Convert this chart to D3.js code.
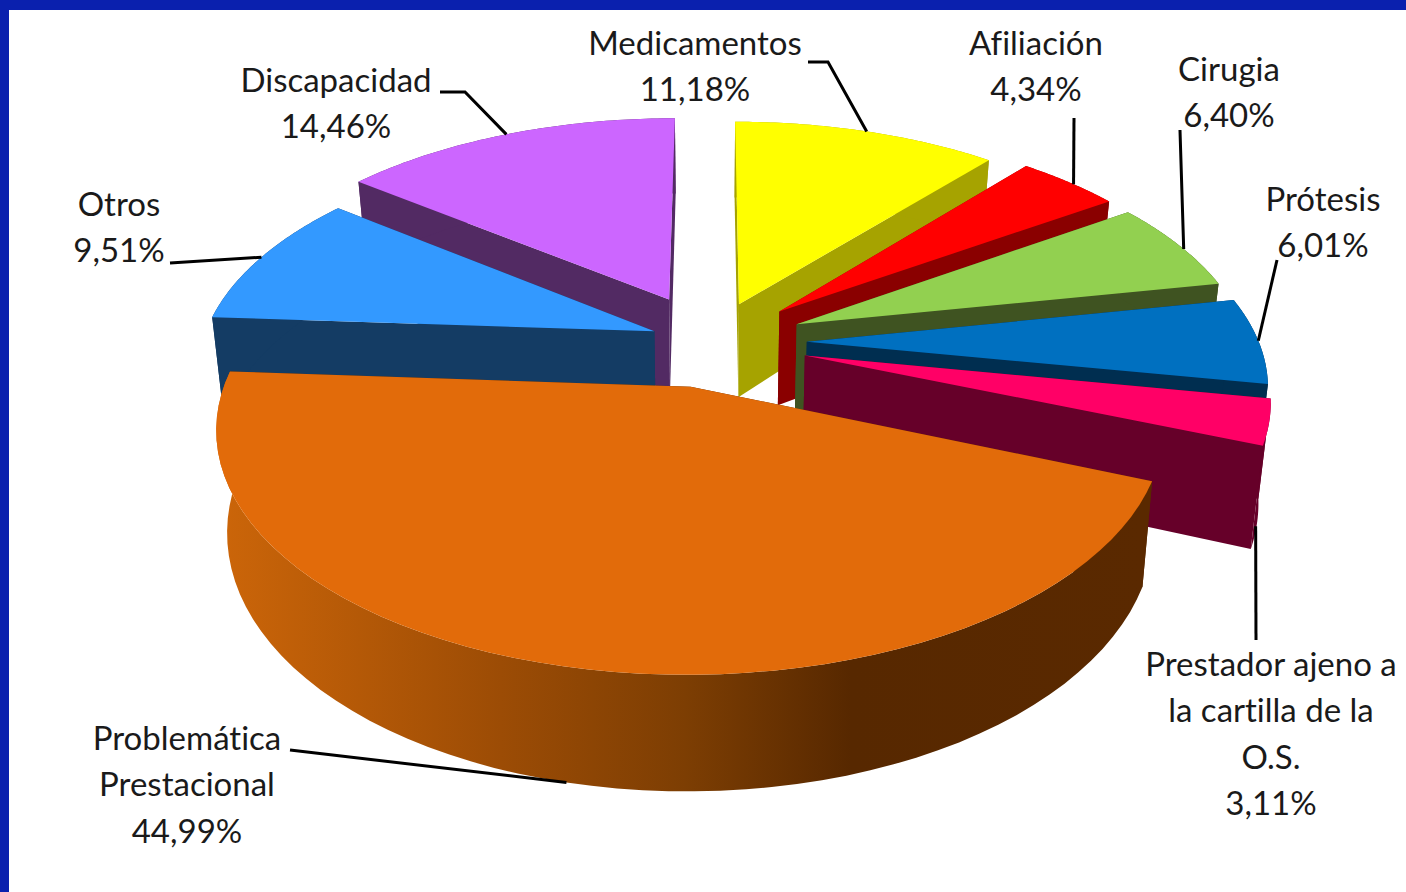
<!DOCTYPE html>
<html>
<head>
<meta charset="utf-8">
<script src="https://cdn.jsdelivr.net/npm/d3@7"></script>
<style>
  html, body { margin: 0; padding: 0; background: #fff; }
  svg { display: block; }
</style>
</head>
<body>
<div id="chart"></div>
<script>
// Data, in pie order (clockwise from twelve o'clock)
const categories = ['Medicamentos', 'Afiliación', 'Cirugia', 'Prótesis', 'Prestador ajeno a la cartilla de la O.S.', 'Problemática Prestacional', 'Otros', 'Discapacidad']
const values = [11.18, 4.34, 6.40, 6.01, 3.11, 44.99, 9.51, 14.46]
const valueLabels = ['11,18%', '4,34%', '6,40%', '6,01%', '3,11%', '44,99%', '9,51%', '14,46%']
const labelLines = [
  ['Medicamentos'], ['Afiliación'], ['Cirugia'], ['Prótesis'],
  ['Prestador ajeno a', 'la cartilla de la', 'O.S.'],
  ['Problemática', 'Prestacional'], ['Otros'], ['Discapacidad']
]

// Styles and layout per slice
const topColours = ['#ffff00', '#ff0000', '#92d050', '#0070c0', '#ff0066', '#e26b0a', '#3399ff', '#cc66ff']
const wallColours = ['#a6a300', '#8a0000', '#3f5321', '#002e50', '#660029', '#572800', '#143c64', '#522a63']
const explode = [0.185, 0.208, 0.208, 0.212, 0.214, 0.198, 0.135, 0.218]
const labelPos = [[695, 55], [1036, 55], [1229, 81], [1323, 211], [1271, 676], [187, 750], [119, 216], [336, 92]]
// leader: elbow points from the label towards the rim
const leaders = [
  [[808, 62], [828, 62]],
  [[1074, 118]],
  [[1180, 130]],
  [[1277, 260]],
  [[1256, 640]],
  [[290, 750]],
  [[170, 263]],
  [[440, 92], [465, 92]]
]
// where a leader hits the slice: fraction along the slice arc, height on the wall
const leaderHit = [[0.5, 0], [0.55, 0], [0.55, 0], [0.5, 0], [0.75, 0.9], [0.5, 1], [0.5, 0], [0.5, 0]]

const width = 1406
const height = 892
const cx = 711
const cy = 342
const radiusX = 452
const radiusY = 224
const persp = 0.165
const depth = 96
const depthSlope = 0.18
const baseShrink = 0.978

const svg = d3.select('#chart').append('svg')
  .attr('width', width)
  .attr('height', height)
  .style('font-family', 'Lato, sans-serif')
  .style('font-variant-ligatures', 'none')

svg.append('rect').attr('width', width).attr('height', height).attr('fill', '#0a20ae')
svg.append('rect').attr('x', 9).attr('y', 10).attr('width', width).attr('height', height).attr('fill', '#fff')

const defs = svg.append('defs')
const wallGrad = defs.append('linearGradient')
  .attr('id', 'orange-wall')
  .attr('gradientUnits', 'userSpaceOnUse')
  .attr('x1', 225).attr('x2', 1145).attr('y1', 0).attr('y2', 0)
wallGrad.selectAll('stop')
  .data([[0, '#cb6509'], [0.3, '#9c4c05'], [0.5, '#7d3e03'], [0.68, '#572800'], [1, '#5a2900']])
  .join('stop')
  .attr('offset', d => d[0])
  .attr('stop-color', d => d[1])

// Ground plane point to screen. x is to the right, z towards the viewer,
// h is 0 on top of the pie and 1 at its base.
function project(x, z, h) {
  const k = 1 / (1 - persp * z)
  const shrink = 1 - (1 - baseShrink) * h
  return [cx + radiusX * x * k * shrink, cy + radiusY * z * k + depth * (1 + depthSlope * z) * h]
}

const pie = d3.pie().sort(null).value(d => d)
const arcs = pie(values).map((a, i) => {
  const mid = (a.startAngle + a.endAngle) / 2
  return {
    i,
    start: a.startAngle,
    end: a.endAngle,
    mid,
    ox: explode[i] * Math.sin(mid),
    oz: -explode[i] * Math.cos(mid)
  }
})

const rimPoint = (a, t, h) => project(a.ox + Math.sin(t), a.oz - Math.cos(t), h)
const apexPoint = (a, h) => project(a.ox, a.oz, h)
const line = d3.line()

function rim(a, h) {
  return d3.range(0, 61).map(n => rimPoint(a, a.start + (a.end - a.start) * n / 60, h))
}

// Painter's order, back to front
const order = arcs.slice().sort((p, q) => (p.oz - q.oz))
const gPie = svg.append('g')

order.forEach(a => {
  const col = wallColours[a.i]
  const g = gPie.append('g').attr('class', 'slice')
  const walls = [a.start, a.end]
    .map(t => ({ t, z: a.oz - 0.5 * Math.cos(t) }))
    .sort((p, q) => p.z - q.z)
  walls.forEach(w => {
    g.append('path')
      .attr('d', line([apexPoint(a, 0), rimPoint(a, w.t, 0), rimPoint(a, w.t, 1), apexPoint(a, 1)]) + 'Z')
      .attr('fill', col)
  })
  g.append('path')
    .attr('d', line(rim(a, 0).concat(rim(a, 1).reverse())) + 'Z')
    .attr('fill', a.i === 5 ? 'url(#orange-wall)' : col)
  g.append('path')
    .attr('d', line([apexPoint(a, 0)].concat(rim(a, 0))) + 'Z')
    .attr('fill', topColours[a.i])
})

// Leader lines
arcs.forEach(a => {
  const hit = leaderHit[a.i]
  const end = rimPoint(a, a.start + (a.end - a.start) * hit[0], hit[1])
  svg.append('path')
    .attr('d', line(leaders[a.i].concat([end])))
    .attr('fill', 'none')
    .attr('stroke', '#000')
    .attr('stroke-width', 3)
})

// Labels
const lineStep = 46.3
arcs.forEach(a => {
  const t = svg.append('text')
    .attr('x', labelPos[a.i][0])
    .attr('y', labelPos[a.i][1])
    .attr('text-anchor', 'middle')
    .style('font-size', '33px')
    .attr('fill', '#1a1a1a')
  labelLines[a.i].concat([valueLabels[a.i]]).forEach((s, n) => {
    t.append('tspan')
      .attr('x', labelPos[a.i][0])
      .attr('y', labelPos[a.i][1] + n * lineStep)
      .text(s)
  })
})
</script>
</body>
</html>
